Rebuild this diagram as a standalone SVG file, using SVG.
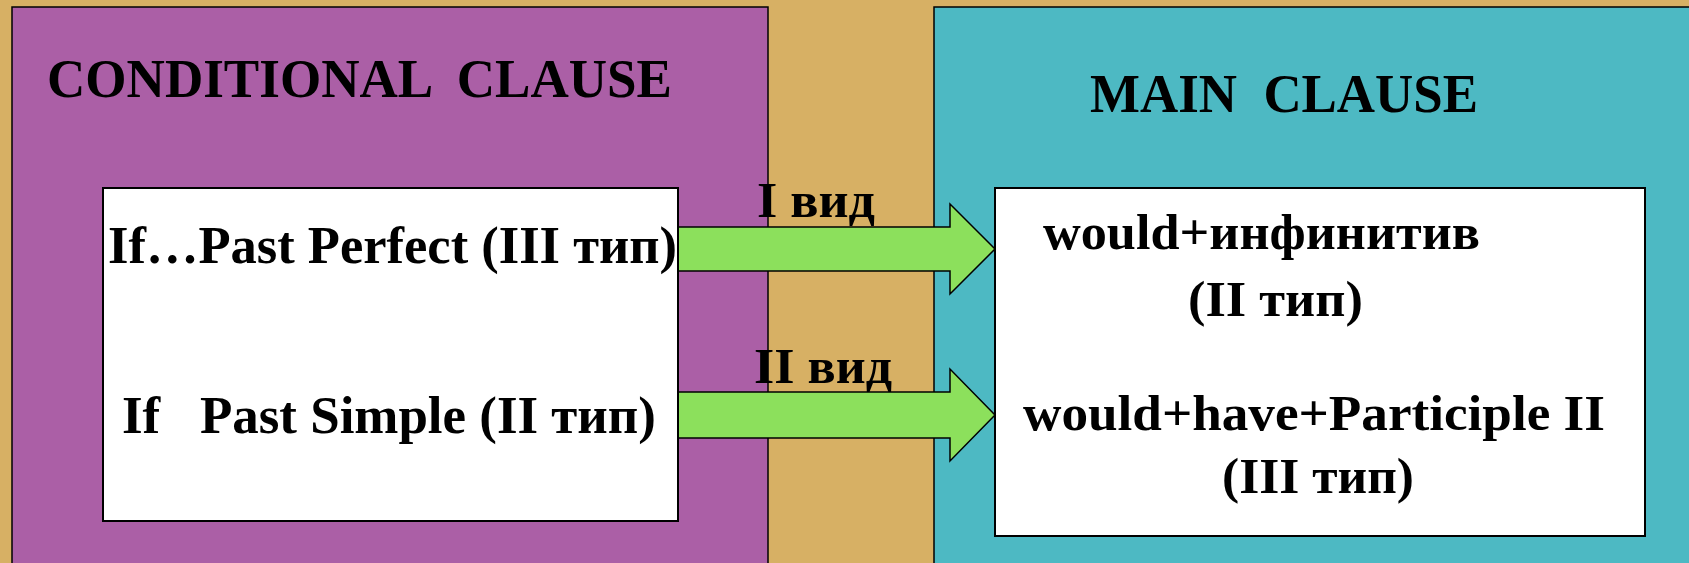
<svg xmlns="http://www.w3.org/2000/svg" width="1689" height="563" viewBox="0 0 1689 563">
  <style>
    .t { font-family: "Liberation Serif", "Times New Roman", "DejaVu Serif", serif; font-weight: bold; fill: #000; white-space: pre; }
    .panel { stroke: #000; stroke-width: 1.5; }
    .box { fill: #fff; stroke: #000; stroke-width: 2; }
    .arrow { fill: #8CE05C; stroke: #000; stroke-width: 1.5; stroke-linejoin: miter; }
  </style>
  <rect x="0" y="0" width="1689" height="563" fill="#D7B064"/>
  <g id="conditional-panel">
    <rect class="panel" x="12" y="7" width="756" height="600" fill="#AB5FA6"/>
    <text class="t" xml:space="preserve" x="47" y="97" font-size="54" textLength="625" lengthAdjust="spacingAndGlyphs">CONDITIONAL  CLAUSE</text>
  </g>
  <g id="main-panel">
    <rect class="panel" x="934" y="7" width="800" height="600" fill="#4DB9C3"/>
    <text class="t" xml:space="preserve" x="1090" y="112" font-size="55" textLength="388" lengthAdjust="spacingAndGlyphs">MAIN  CLAUSE</text>
  </g>
  <g id="connectors">
    <polygon class="arrow" points="678,227 950,227 950,204 995,249 950,294 950,271 678,271"/>
    <polygon class="arrow" points="678,392 950,392 950,369 995,415 950,461 950,438 678,438"/>
    <text class="t" x="757" y="217" font-size="51" textLength="118" lengthAdjust="spacingAndGlyphs">I вид</text>
    <text class="t" x="754" y="383" font-size="51" textLength="138" lengthAdjust="spacingAndGlyphs">II вид</text>
  </g>
  <g id="if-clause-box">
    <rect class="box" x="103" y="188" width="575" height="333"/>
    <text class="t" x="108" y="263" font-size="53" textLength="569" lengthAdjust="spacingAndGlyphs">If…Past Perfect (III тип)</text>
    <text class="t" xml:space="preserve" x="122" y="433" font-size="53" textLength="534" lengthAdjust="spacingAndGlyphs">If   Past Simple (II тип)</text>
  </g>
  <g id="main-clause-box">
    <rect class="box" x="995" y="188" width="650" height="348"/>
    <text class="t" x="1043" y="249" font-size="50" textLength="437" lengthAdjust="spacingAndGlyphs">would+инфинитив</text>
    <text class="t" x="1188" y="316" font-size="50" textLength="175" lengthAdjust="spacingAndGlyphs">(II тип)</text>
    <text class="t" x="1023" y="430" font-size="50" textLength="582" lengthAdjust="spacingAndGlyphs">would+have+Participle II</text>
    <text class="t" x="1222" y="493" font-size="50" textLength="192" lengthAdjust="spacingAndGlyphs">(III тип)</text>
  </g>
</svg>
